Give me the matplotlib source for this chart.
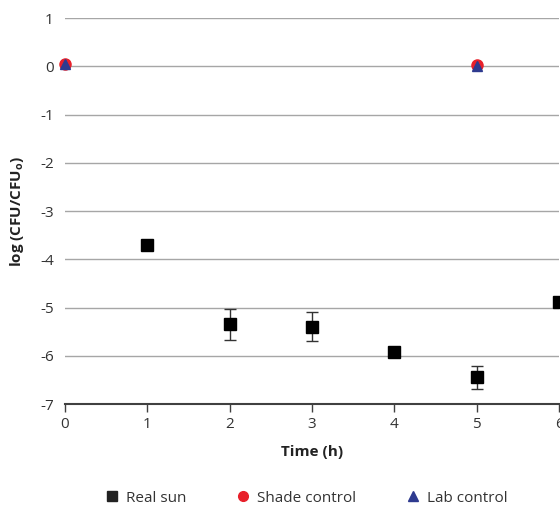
import matplotlib.pyplot as plt
from matplotlib.lines import Line2D

plt.rcParams["font.family"] = ["Open Sans", "DejaVu Sans"]
plt.rcParams["mathtext.fontset"] = "custom"
plt.rcParams["mathtext.rm"] = "Open Sans:bold"
plt.rcParams["axes.unicode_minus"] = False

# data
sun_t = [1, 2, 3, 4, 5, 6]
sun_log = [-3.70, -5.35, -5.40, -5.92, -6.45, -4.88]
sun_err = [0.0, 0.32, 0.30, 0.0, 0.23, 0.0]

shade_t = [0, 5]
shade_log = [0.05, 0.02]

lab_t = [0, 5]
lab_log = [0.05, 0.00]

x_ticks = [0, 1, 2, 3, 4, 5, 6]
y_ticks = [1, 0, -1, -2, -3, -4, -5, -6, -7]

fig = plt.figure(figsize=(5.6, 5.11), dpi=100)
ax = fig.add_axes([65 / 560, 1 - 404 / 511, 494 / 560, 386 / 511])

ax.set_xlim(0, 6)
ax.set_ylim(-7, 1)

for y in y_ticks[:-1]:
    ax.axhline(y, color="#a6a6a6", lw=1.0, zorder=0)

ax.errorbar(sun_t, sun_log, yerr=sun_err, fmt="s", color="black", ms=8,
            ecolor="#333333", elinewidth=1.0, capsize=4, capthick=1.0,
            clip_on=False, zorder=3)
ax.plot(shade_t, shade_log, "o", color="#e8202a", ms=8, clip_on=False, zorder=4)
ax.plot(lab_t, lab_log, "^", color="#2e3a8f", ms=7, clip_on=False, zorder=5)

for s in ["left", "right", "top"]:
    ax.spines[s].set_visible(False)
ax.spines["bottom"].set_color("#404040")
ax.spines["bottom"].set_linewidth(1.5)

ax.set_xticks(x_ticks)
ax.set_yticks(y_ticks)
ax.tick_params(axis="x", direction="out", length=6, width=1, color="#404040",
               labelsize=11, labelcolor="#333333", pad=3)
ax.tick_params(axis="y", length=0, labelsize=11, labelcolor="#333333", pad=8)

ax.set_xlabel("Time (h)", fontsize=11, fontweight="bold", color="#222222", labelpad=10)
ax.set_ylabel(r"log (CFU/CFU$_\mathrm{o}$)", fontsize=11, fontweight="bold",
              color="#222222", labelpad=10)

handles = [
    Line2D([], [], ls="", marker="s", color="#222222", ms=7),
    Line2D([], [], ls="", marker="o", color="#e8202a", ms=7),
    Line2D([], [], ls="", marker="^", color="#2e3a8f", ms=7),
]
fig.legend(handles, ["Real sun", "Shade control", "Lab control"],
           loc="center", bbox_to_anchor=(306 / 560, 1 - 498 / 511), ncol=3,
           frameon=False, fontsize=11, handlelength=1.0, handletextpad=0.4,
           columnspacing=3.25, labelcolor="#333333")

fig.savefig("out.png", dpi=100)
